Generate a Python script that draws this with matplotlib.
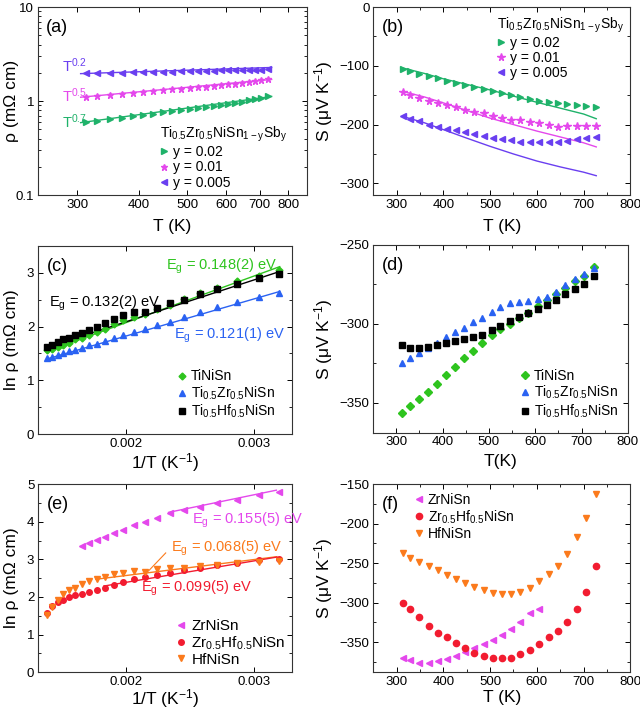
import numpy as np
import matplotlib
matplotlib.use("Agg")
import matplotlib.pyplot as plt
from matplotlib.ticker import AutoMinorLocator, NullLocator, NullFormatter

plt.rcParams['font.family'] = ['Liberation Sans', 'DejaVu Sans']
plt.rcParams['mathtext.default'] = 'regular'
plt.rcParams['font.size'] = 9

# 温度点 (K)
T = [313, 329, 349, 369, 388, 408, 427, 447, 466, 486, 506, 525, 545, 565, 585, 605, 625, 645, 665, 685, 705, 727]
T_zr = T[:16]

# (a) 电阻率 rho (mOhm cm)
rho_y002 = [0.60, 0.62, 0.64, 0.66, 0.69, 0.71, 0.73, 0.76, 0.78, 0.80, 0.83, 0.85, 0.87, 0.89, 0.92, 0.94, 0.96, 0.99, 1.02, 1.05, 1.09, 1.13]
rho_y001 = [1.11, 1.13, 1.16, 1.19, 1.22, 1.25, 1.28, 1.31, 1.33, 1.36, 1.38, 1.41, 1.43, 1.46, 1.48, 1.51, 1.53, 1.56, 1.59, 1.62, 1.66, 1.70]
rho_y0005 = [1.97, 1.98, 1.99, 2.00, 2.02, 2.03, 2.04, 2.05, 2.06, 2.07, 2.08, 2.09, 2.10, 2.11, 2.12, 2.13, 2.14, 2.15, 2.15, 2.16, 2.16, 2.17]
fitA_T = [305, 740]
fitA_y002 = [0.59, 1.12]
fitA_y001 = [1.10, 1.70]
fitA_y0005 = [1.96, 2.28]

# (b) Seebeck (uV/K)
S_y002 = [-105, -109.5, -113.5, -117, -121, -125, -128.5, -132, -136, -139.5, -143.5, -147, -149.5, -152.5, -156, -159, -162, -163.5, -165.5, -167, -168, -170]
S_y001 = [-145, -149.5, -154, -159, -162.5, -166.5, -170.5, -175, -178, -181, -185, -189, -191.5, -193, -196, -198, -201.5, -204, -203, -203, -202, -202]
S_y0005 = [-186, -190, -194.5, -200, -204, -207, -210, -213, -216, -220, -223, -224.5, -226.5, -229, -230, -230, -230, -230, -227.5, -224.5, -223, -221]
fitB_T = [313, 360, 400, 450, 500, 550, 600, 650, 700, 727]
fitB_y002 = [-103.5, -113, -122, -131.5, -141, -151.5, -162, -172, -182, -190]
fitB_y001 = [-143.5, -153, -163, -176, -189, -200, -211, -221, -231, -238]
fitB_y0005 = [-186, -197, -208.5, -223, -237, -250, -262, -272, -281, -287]

# (c) ln rho
ln_TiNiSn = [3.04, 2.94, 2.84, 2.72, 2.62, 2.51, 2.40, 2.32, 2.24, 2.18, 2.12, 2.04, 1.96, 1.90, 1.84, 1.79, 1.76, 1.69, 1.65, 1.62, 1.575, 1.556]
ln_TiZr = [2.63, 2.54, 2.45, 2.36, 2.27, 2.18, 2.09, 2.025, 1.95, 1.90, 1.84, 1.79, 1.73, 1.68, 1.65, 1.61, 1.57, 1.54, 1.505, 1.475, 1.44, 1.42]
ln_TiHf = [2.98, 2.90, 2.79, 2.69, 2.60, 2.49, 2.43, 2.34, 2.27, 2.26, 2.21, 2.13, 2.07, 1.99, 1.93, 1.88, 1.84, 1.79, 1.76, 1.71, 1.66, 1.62]
fitC_x = [0.00138, 0.00320]
fitC_TiNiSn = [1.54, 3.11]
fitC_TiZr = [1.40, 2.65]
fitC_TiHf = [1.61, 3.02]

# (d) Seebeck
S_TiNiSn = [-356.5, -352, -347.5, -343, -338, -332.5, -327.5, -321.5, -317, -312, -307, -303.5, -300, -296.5, -293, -288.5, -285, -281, -277.5, -273, -269.5, -264]
S_TiZr = [-324.5, -321.5, -318.5, -315.5, -312, -308, -305, -302.5, -298.5, -296, -292.2, -289.5, -287, -286, -285.4, -284.4, -282.7, -279.5, -275.3, -271.7, -268.6, -264.8]
S_TiHf = [-313.5, -315, -315, -314.5, -313.5, -312, -311, -309.5, -308.5, -307, -304, -301.5, -298, -295.5, -293, -290.5, -288, -285, -281, -278, -274.5, -269.5]

# (e) ln rho
ln_ZrNiSn = [4.80, 4.71, 4.59, 4.49, 4.40, 4.31, 4.22, 4.11, 4.00, 3.91, 3.79, 3.69, 3.60, 3.51, 3.44, 3.36]
ln_ZrHf = [3.01, 2.98, 2.91, 2.85, 2.78, 2.71, 2.64, 2.58, 2.52, 2.47, 2.40, 2.31, 2.25, 2.18, 2.14, 2.09, 2.05, 1.99, 1.93, 1.87, 1.755, 1.56]
ln_HfNiSn = [2.95, 2.93, 2.91, 2.85, 2.82, 2.77, 2.76, 2.73, 2.67, 2.69, 2.64, 2.60, 2.54, 2.47, 2.42, 2.34, 2.25, 2.18, 2.07, 1.91, 1.72, 1.52]
fitE_zr_x = [0.00233, 0.003174]
fitE_zr = [4.25, 4.84]
fitE_hf_x = [0.00176, 0.003177]
fitE_hf = [2.47, 3.07]
fitE_zrhf_x = [0.001823, 0.003177]
fitE_zrhf = [2.29, 3.06]

# (f) Seebeck
S_ZrNiSn = [-370.5, -373, -376, -376, -374, -371, -367.5, -363, -358, -353, -347.5, -341, -334, -324.5, -313.5, -307.5]
S_ZrHf = [-300, -308, -318, -329, -338, -344, -351, -357, -363.5, -367, -369.5, -370.5, -370, -365.5, -360, -352, -344, -335.5, -324.5, -307.5, -286.5, -254]
S_HfNiSn = [-237, -243, -248.5, -254, -259, -264.5, -269.5, -275, -280, -284, -287.5, -289, -289, -287, -281, -273, -264, -253, -238, -217.5, -192.5, -162]

inv_T = 1.0 / np.array(T)
inv_T_zr = 1.0 / np.array(T_zr)

c_green = '#1fb26a'
c_mag = '#e448ec'
c_purple = '#6a3ff0'
c_lime = '#2ec41e'
c_blue = '#2a62f2'
c_red = '#f21c30'
c_orange = '#fb7a1c'

formula = 'Ti$_{0.5}$Zr$_{0.5}$NiSn$_{1-y}$Sb$_{y}$'
FS_TICK = 9.5
FS_LAB = 12.5
FS_LEG = 10
FS_EG = 10.5


def style(ax, minor=True):
    ax.tick_params(direction='in', top=True, right=True, length=3.5, width=0.7,
                   labelsize=FS_TICK, pad=2.5)
    ax.tick_params(which='minor', direction='in', top=True, right=True, length=2, width=0.6)
    if minor:
        ax.yaxis.set_minor_locator(AutoMinorLocator(2))
    for s in ax.spines.values():
        s.set_linewidth(0.8)
        s.set_color('#333333')


def leg(ax, fs=FS_LEG, **kw):
    l = ax.legend(frameon=False, fontsize=fs, handletextpad=0.35, handlelength=0.6,
                  labelspacing=0.08, borderaxespad=0, **kw)
    l._legend_box.align = 'left'
    return l


def labels(ax, xl, yl, xoff, yoff):
    ax.set_xlabel(xl, fontsize=FS_LAB)
    ax.set_ylabel(yl, fontsize=FS_LAB)
    ax.xaxis.set_label_coords(0.5, xoff)
    ax.yaxis.set_label_coords(yoff, 0.5)


fig = plt.figure(figsize=(6.4, 7.12), dpi=100)

# ---------- (a)
ax = fig.add_axes([0.059, 0.726, 0.420, 0.264])
ax.set_xscale('log')
ax.set_yscale('log')
ax.plot(fitA_T, fitA_y002, color=c_green, lw=1)
ax.plot(fitA_T, fitA_y001, color=c_mag, lw=1)
ax.plot(fitA_T, fitA_y0005, color=c_purple, lw=1)
ax.plot(T, rho_y002, '>', color=c_green, ms=4.5, ls='none', label='y = 0.02')
ax.plot(T, rho_y001, '*', color=c_mag, ms=5, ls='none', label='y = 0.01')
ax.plot(T, rho_y0005, '<', color=c_purple, ms=4.5, ls='none', label='y = 0.005')
ax.set_xlim(250, 870)
ax.set_ylim(0.1, 10)
ax.set_xticks([300, 400, 500, 600, 700, 800])
ax.set_xticklabels(['300', '400', '500', '600', '700', '800'])
ax.xaxis.set_minor_locator(NullLocator())
ax.set_yticks([0.1, 1, 10])
ax.set_yticklabels(['0.1', '1', '10'])
ax.yaxis.set_minor_formatter(NullFormatter())
style(ax, minor=False)
ax.text(280, 2.36, 'T$^{0.2}$', color=c_purple, fontsize=10.5, va='center')
ax.text(280, 1.13, 'T$^{0.5}$', color=c_mag, fontsize=10.5, va='center')
ax.text(280, 0.60, 'T$^{0.7}$', color=c_green, fontsize=10.5, va='center')
ax.text(0.03, 0.89, '(a)', transform=ax.transAxes, fontsize=13, va='center')
leg(ax, loc='lower left', bbox_to_anchor=(0.433, 0.0), title=formula, title_fontsize=FS_LEG)
labels(ax, 'T (K)', 'ρ (mΩ cm)', -0.125, -0.07)

# ---------- (b)
ax = fig.add_axes([0.583, 0.726, 0.402, 0.264])
ax.plot(fitB_T, fitB_y002, color=c_green, lw=1)
ax.plot(fitB_T, fitB_y001, color=c_mag, lw=1)
ax.plot(fitB_T, fitB_y0005, color=c_purple, lw=1)
ax.plot(T, S_y002, '>', color=c_green, ms=5, ls='none', label='y = 0.02')
ax.plot(T, S_y001, '*', color=c_mag, ms=5.5, ls='none', label='y = 0.01')
ax.plot(T, S_y0005, '<', color=c_purple, ms=5, ls='none', label='y = 0.005')
ax.set_xlim(250, 800)
ax.set_ylim(-320, 0)
ax.set_xticks([300, 400, 500, 600, 700, 800])
ax.set_yticks([-300, -200, -100, 0])
ax.xaxis.set_minor_locator(AutoMinorLocator(2))
style(ax)
ax.text(0.035, 0.89, '(b)', transform=ax.transAxes, fontsize=13, va='center')
leg(ax, loc='upper left', bbox_to_anchor=(0.461, 0.985), title=formula, title_fontsize=FS_LEG)
labels(ax, 'T (K)', 'S (μV K$^{-1}$)', -0.125, -0.15)

# ---------- (c)
ax = fig.add_axes([0.059, 0.390, 0.398, 0.265])
ax.plot(fitC_x, fitC_TiNiSn, color=c_lime, lw=1)
ax.plot(fitC_x, fitC_TiHf, color='black', lw=1)
ax.plot(fitC_x, fitC_TiZr, color=c_blue, lw=1)
ax.plot(inv_T, ln_TiNiSn, 'D', color=c_lime, ms=3.5, ls='none', label='TiNiSn')
ax.plot(inv_T, ln_TiZr, '^', color=c_blue, ms=4, ls='none', label='Ti$_{0.5}$Zr$_{0.5}$NiSn')
ax.plot(inv_T, ln_TiHf, 's', color='black', ms=3.8, ls='none', label='Ti$_{0.5}$Hf$_{0.5}$NiSn')
ax.set_xlim(0.001305, 0.0033)
ax.set_ylim(0, 3.5)
ax.set_xticks([0.002, 0.003])
ax.set_xticklabels(['0.002', '0.003'])
ax.set_yticks([0, 1, 2, 3])
style(ax)
ax.text(0.002307, 3.12, 'E$_g$ = 0.148(2) eV', color=c_lime, fontsize=FS_EG, va='center')
ax.text(0.001391, 2.43, 'E$_g$ = 0.132(2) eV', color='black', fontsize=FS_EG, va='center')
ax.text(0.002373, 1.84, 'E$_g$ = 0.121(1) eV', color=c_blue, fontsize=FS_EG, va='center')
ax.text(0.035, 0.89, '(c)', transform=ax.transAxes, fontsize=13, va='center')
leg(ax, loc='lower left', bbox_to_anchor=(0.527, 0.044))
labels(ax, '1/T (K$^{-1}$)', 'ln ρ (mΩ cm)', -0.09, -0.075)

# ---------- (d)
ax = fig.add_axes([0.583, 0.392, 0.398, 0.264])
ax.plot(T, S_TiNiSn, 'D', color=c_lime, ms=4, ls='none', label='TiNiSn')
ax.plot(T, S_TiZr, '^', color=c_blue, ms=5, ls='none', label='Ti$_{0.5}$Zr$_{0.5}$NiSn')
ax.plot(T, S_TiHf, 's', color='black', ms=4.5, ls='none', label='Ti$_{0.5}$Hf$_{0.5}$NiSn')
ax.set_xlim(250, 800)
ax.set_ylim(-369, -250)
ax.set_xticks([300, 400, 500, 600, 700, 800])
ax.set_yticks([-350, -300, -250])
ax.xaxis.set_minor_locator(AutoMinorLocator(2))
style(ax)
ax.text(0.035, 0.89, '(d)', transform=ax.transAxes, fontsize=13, va='center')
leg(ax, loc='lower left', bbox_to_anchor=(0.558, 0.04))
labels(ax, 'T(K)', 'S (μV K$^{-1}$)', -0.11, -0.15)

# ---------- (e)
ax = fig.add_axes([0.059, 0.056, 0.398, 0.264])
ax.plot(fitE_zr_x, fitE_zr, color=c_mag, lw=1)
ax.plot(fitE_hf_x, fitE_hf, color=c_orange, lw=1)
ax.plot(fitE_zrhf_x, fitE_zrhf, color=c_red, lw=1)
ax.plot(inv_T_zr, ln_ZrNiSn, '<', color=c_mag, ms=4.5, ls='none', label='ZrNiSn')
ax.plot(inv_T, ln_ZrHf, 'o', color=c_red, ms=4, ls='none', label='Zr$_{0.5}$Hf$_{0.5}$NiSn')
ax.plot(inv_T, ln_HfNiSn, 'v', color=c_orange, ms=4.5, ls='none', label='HfNiSn')
ax.plot([0.002307, 0.002172], [3.17, 2.69], color=c_orange, lw=0.8)
ax.set_xlim(0.001305, 0.0033)
ax.set_ylim(0, 5)
ax.set_xticks([0.002, 0.003])
ax.set_xticklabels(['0.002', '0.003'])
ax.set_yticks([0, 1, 2, 3, 4, 5])
style(ax)
ax.text(0.002516, 4.04, 'E$_g$ = 0.155(5) eV', color=c_mag, fontsize=FS_EG, va='center')
ax.text(0.002346, 3.28, 'E$_g$ = 0.068(5) eV', color=c_orange, fontsize=FS_EG, va='center')
ax.text(0.002112, 2.23, 'E$_g$ = 0.099(5) eV', color=c_red, fontsize=FS_EG, va='center')
ax.text(0.035, 0.89, '(e)', transform=ax.transAxes, fontsize=13, va='center')
leg(ax, fs=11, loc='lower left', bbox_to_anchor=(0.522, -0.004))
labels(ax, '1/T (K$^{-1}$)', 'ln ρ (mΩ cm)', -0.08, -0.075)

# ---------- (f)
ax = fig.add_axes([0.583, 0.056, 0.402, 0.264])
ax.plot(T_zr, S_ZrNiSn, '<', color=c_mag, ms=5, ls='none', label='ZrNiSn')
ax.plot(T, S_ZrHf, 'o', color=c_red, ms=4.5, ls='none', label='Zr$_{0.5}$Hf$_{0.5}$NiSn')
ax.plot(T, S_HfNiSn, 'v', color=c_orange, ms=5, ls='none', label='HfNiSn')
ax.set_xlim(250, 800)
ax.set_ylim(-388, -150)
ax.set_xticks([300, 400, 500, 600, 700, 800])
ax.set_yticks([-350, -300, -250, -200, -150])
ax.xaxis.set_minor_locator(AutoMinorLocator(2))
style(ax)
ax.text(0.035, 0.89, '(f)', transform=ax.transAxes, fontsize=13, va='center')
leg(ax, loc='upper left', bbox_to_anchor=(0.14, 0.982))
labels(ax, 'T (K)', 'S (μV K$^{-1}$)', -0.095, -0.15)

fig.savefig('out.png', dpi=100)
